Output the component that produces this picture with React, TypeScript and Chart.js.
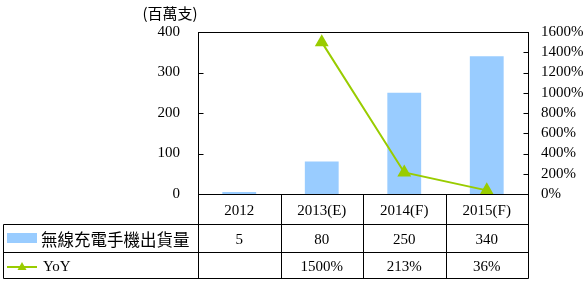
import React, { useEffect, useRef } from "react";
import { Chart, registerables } from "chart.js";

Chart.register(...registerables);

const categories = ["2012", "2013(E)", "2014(F)", "2015(F)"];
const shipments = [5, 80, 250, 340];
const yoy: (number | null)[] = [null, 1500, 213, 36];
const yoyLabels = ["", "1500%", "213%", "36%"];
const shipmentLabel = "無線充電手機出貨量";
const yoyLabel = "YoY";
const unitTitle = "(百萬支)";

const BAR_COLOR = "#99CCFF";
const LINE_COLOR = "#99CC00";
const LATIN = "'Liberation Serif', serif";
const CJK = "'Noto Sans CJK TC', sans-serif";

const tablePlugin = {
  id: "dataTable",
  afterDraw(chart: any) {
    const ctx = chart.ctx;
    const area = chart.chartArea;
    const x = chart.scales.x;
    const y = chart.scales.y;
    const y1 = chart.scales.y1;
    const n = categories.length;
    const colW = (area.right - area.left) / n;
    const tableLeft = 3;
    const row0 = area.bottom;
    const row1 = row0 + 30;
    const row2 = row1 + 28;
    const row3 = row2 + 26;

    ctx.save();
    ctx.strokeStyle = "#000";
    ctx.lineWidth = 1;
    const line = (x1: number, y1_: number, x2: number, y2: number) => {
      ctx.beginPath();
      ctx.moveTo(Math.round(x1) + 0.5, Math.round(y1_) + 0.5);
      ctx.lineTo(Math.round(x2) + 0.5, Math.round(y2) + 0.5);
      ctx.stroke();
    };
    // plot frame
    line(area.left, area.top, area.right, area.top);
    line(area.left, area.top, area.left, row3);
    line(area.right, area.top, area.right, row3);
    line(area.left, row0, area.right, row0);
    // inside ticks
    y.ticks.forEach((t: any) => {
      const py = y.getPixelForValue(t.value);
      line(area.left, py, area.left + 5, py);
    });
    y1.ticks.forEach((t: any) => {
      const py = y1.getPixelForValue(t.value);
      line(area.right - 5, py, area.right, py);
    });
    // table grid
    line(tableLeft, row1, area.right, row1);
    line(tableLeft, row2, area.right, row2);
    line(tableLeft, row3, area.right, row3);
    line(tableLeft, row1, tableLeft, row3);
    for (let i = 1; i < n; i++) {
      const cx = x.getPixelForValue(i) - colW / 2;
      line(cx, row0, cx, row3);
    }

    // texts
    ctx.fillStyle = "#000";
    ctx.textAlign = "center";
    ctx.textBaseline = "middle";
    ctx.font = "15px " + LATIN;
    categories.forEach((c, i) => {
      const cx = x.getPixelForValue(i);
      ctx.fillText(c, cx, (row0 + row1) / 2 + 2);
      ctx.fillText(String(shipments[i]), cx, (row1 + row2) / 2 + 2);
      if (yoyLabels[i]) ctx.fillText(yoyLabels[i], cx, (row2 + row3) / 2 + 2);
    });

    // legend keys
    ctx.fillStyle = BAR_COLOR;
    ctx.fillRect(7, (row1 + row2) / 2 - 5, 30, 10);
    ctx.strokeStyle = LINE_COLOR;
    ctx.lineWidth = 2;
    ctx.beginPath();
    const ly = (row2 + row3) / 2 + 2;
    ctx.moveTo(7, ly);
    ctx.lineTo(37, ly);
    ctx.stroke();
    ctx.fillStyle = LINE_COLOR;
    ctx.beginPath();
    ctx.moveTo(22, ly - 5);
    ctx.lineTo(26.5, ly + 3);
    ctx.lineTo(17.5, ly + 3);
    ctx.closePath();
    ctx.fill();

    ctx.fillStyle = "#000";
    ctx.textAlign = "left";
    ctx.font = "16.5px " + CJK;
    ctx.fillText(shipmentLabel, 41, (row1 + row2) / 2 + 2);
    ctx.font = "15px " + LATIN;
    ctx.fillText(yoyLabel, 43, ly);

    // unit title
    ctx.textAlign = "center";
    ctx.font = "15px " + CJK;
    ctx.fillText(unitTitle, 170, 13);
    ctx.restore();
  },
};

export default function App() {
  const ref = useRef<HTMLCanvasElement | null>(null);
  useEffect(() => {
    document.body.style.margin = "0";
    if (!ref.current) return;
    const chart = new Chart(ref.current, {
      type: "bar",
      data: {
        labels: categories,
        datasets: [
          {
            type: "line",
            label: yoyLabel,
            data: yoy,
            yAxisID: "y1",
            borderColor: LINE_COLOR,
            backgroundColor: LINE_COLOR,
            borderWidth: 2,
            pointStyle: "triangle",
            pointRadius: 6,
            pointBackgroundColor: LINE_COLOR,
            pointBorderColor: LINE_COLOR,
            order: 0,
          } as any,
          {
            type: "bar",
            label: shipmentLabel,
            data: shipments,
            yAxisID: "y",
            backgroundColor: BAR_COLOR,
            barPercentage: 0.41,
            categoryPercentage: 1,
            order: 1,
          },
        ],
      },
      options: {
        animation: false,
        responsive: false,
        maintainAspectRatio: false,
        layout: { padding: { top: 32, bottom: 87, left: 0, right: 0 } },
        plugins: {
          legend: { display: false },
          tooltip: { enabled: false },
          title: { display: false },
        },
        scales: {
          x: { display: false, offset: true },
          y: {
            position: "left",
            min: 0,
            max: 400,
            ticks: {
              stepSize: 100,
              padding: 18,
              autoSkip: false,
              color: "#000",
              font: { family: LATIN, size: 15 },
            },
            grid: { display: false, drawTicks: false },
            border: { display: true, color: "#000" },
            afterFit: (s: any) => {
              s.width = 198;
            },
          },
          y1: {
            position: "right",
            min: 0,
            max: 1600,
            ticks: {
              stepSize: 200,
              padding: 13,
              autoSkip: false,
              color: "#000",
              font: { family: LATIN, size: 15 },
              callback: (v: any) => v + "%",
            },
            grid: { display: false, drawTicks: false },
            border: { display: true, color: "#000" },
            afterFit: (s: any) => {
              s.width = 58;
            },
          },
        },
      },
      plugins: [tablePlugin],
    });
    return () => chart.destroy();
  }, []);
  return (
    <div style={{ position: "absolute", left: 0, top: 0, width: 586, height: 281, background: "#fff" }}>
      <canvas ref={ref} width={586} height={281} style={{ width: 586, height: 281 }} />
    </div>
  );
}
